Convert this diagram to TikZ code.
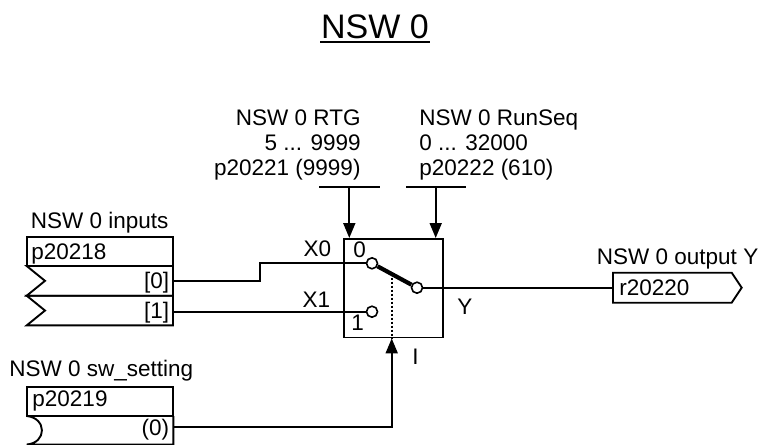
\documentclass[tikz,border=0pt]{standalone}
\usepackage{fontspec}
\setmainfont{Liberation Sans}
\usetikzlibrary{arrows.meta}
\begin{document}
\begin{tikzpicture}[x=1pt,y=-1pt,line width=1.9pt,
txt/.style={inner sep=0,font=\fontsize{22.5}{25}\selectfont},
pin/.style={circle,draw,fill=white,inner sep=0,minimum size=11,line width=1.6pt},
feed/.style={-{Triangle[length=15pt,width=12pt]}}]
\pgfmathsetmacro\rowh{29.7};
\useasboundingbox (0,0) rectangle (759,444);
\node[inner sep=0,font=\fontsize{34}{40}\selectfont,anchor=base] (title) at (375,38.3) {NSW 0};
\draw[line width=2] ([yshift=-3.4pt]title.base west) -- ([yshift=-3.4pt]title.base east);
\node[txt,anchor=base west] (inlbl) at (30,228.5) {NSW 0 inputs};
\draw (26.7,237) rectangle (173,266);
\node[txt,anchor=base west] (inpar) at (30.3,259) {p20218};
\foreach \r in {0,1} \draw (173,266+\rowh*\r) -- (26.7,266+\rowh*\r) -- (45,266+\rowh*\r+\rowh/2) -- (26.7,266+\rowh*\r+\rowh) -- (173,266+\rowh*\r+\rowh) -- (173,266+\rowh*\r);
\node[txt,anchor=east] (idx0) at (170,282.5) {[0]};
\node[txt,anchor=east] (idx1) at (170,312.5) {[1]};
\node[txt,anchor=base west] (swlbl) at (8.5,376.7) {NSW 0 sw\_setting};
\draw (26.7,387) rectangle (173.3,416);
\node[txt,anchor=base west] (swpar) at (31.5,406.7) {p20219};
\draw (26.7,416) .. controls (47,418) and (47,443) .. (26.7,444.5) -- (173.3,444.5) -- (173.3,416);
\node[txt,anchor=east] (swval) at (170,429.5) {(0)};
\node[draw,minimum width=98.5,minimum height=98.5,inner sep=0,anchor=north west] (sw) at (343.3,238) {};
\node[txt,anchor=base west] at (352.3,257.3) {0};
\node[txt,anchor=base west] at (350.5,330.7) {1};
\node[txt,anchor=base east] (x0) at (332,256.7) {X0};
\node[txt,anchor=base east] (x1) at (331,307) {X1};
\node[txt,anchor=base west] (ylbl) at (456.5,314) {Y};
\node[txt,anchor=base west] (ilbl) at (411.5,364) {I};
\node[pin] (c0) at (372,263.3) {};
\node[pin] (c1) at (372,311.7) {};
\node[pin] (cy) at (417,287.7) {};
\draw[line width=4.2] (c0) -- (cy);
\coordinate (arm) at (391.7,277.5);
\draw[line width=1.6,dash pattern=on 2pt off 2pt] (arm) -- (arm |- sw.south);
\coordinate (in0) at (173,281);
\coordinate (in1) at (173,311.7);
\draw (in0) -- ++(87,0) |- (c0);
\draw (in1) -- (c1);
\coordinate (sel) at (173.3,427.3);
\draw[feed] (sel) -| (arm |- sw.south);
\node[txt,align=right,anchor=north east] (rtglbl) at (361.5,109.3) {NSW 0 RTG\\5 ... 9999\\p20221 (9999)};
\node[txt,align=left,anchor=north west] (seqlbl) at (418.5,109.3) {NSW 0 RunSeq\\0 ... 32000\\p20222 (610)};
\coordinate (rtg) at (349.3,187.3);
\coordinate (seq) at (435.7,187.3);
\draw (rtg) ++(-30,0) -- ++(60.7,0);
\draw (seq) ++(-29.7,0) -- ++(60,0);
\draw[feed] (rtg) -- (rtg |- sw.north);
\draw[feed] (seq) -- (seq |- sw.north);
\node[txt,anchor=base west] (outlbl) at (596,264.3) {NSW 0 output Y};
\draw (613,272.7) -- (731.7,272.7) -- (741.7,287.7) -- (731.7,302.7) -- (613,302.7) -- cycle;
\node[txt,anchor=base west] (outpar) at (618.5,295) {r20220};
\coordinate (yout) at (613,287.7);
\draw (cy) -- (yout);
\end{tikzpicture}
\end{document}
